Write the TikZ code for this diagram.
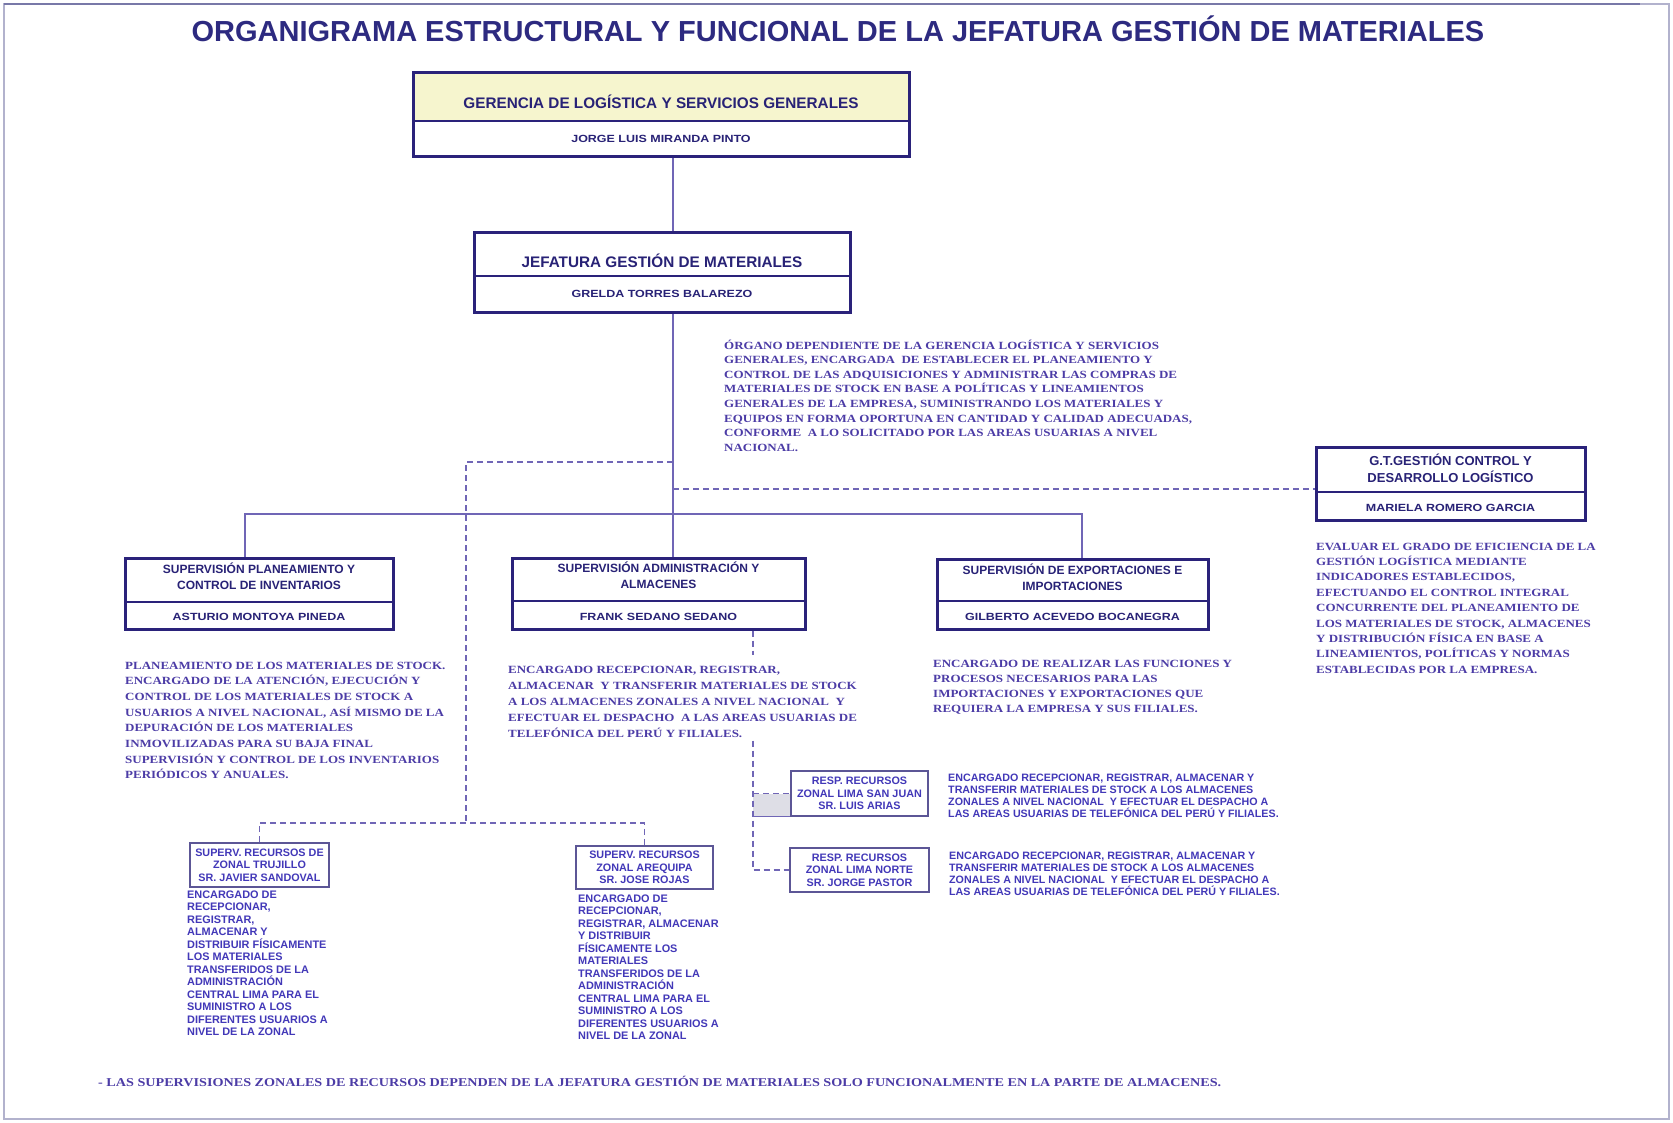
\documentclass[tikz,border=0pt]{standalone}
\usepackage{fontspec}
\setmainfont{Liberation Serif}
\setsansfont{Liberation Sans}
\newfontfamily\headfont{Liberation Sans}
\newfontfamily\namefont[FakeStretch=1.2]{Liberation Sans}
\newfontfamily\blurbfont[FakeStretch=1.18]{Liberation Serif}
\newfontfamily\zonefont{Liberation Sans}

\definecolor{titlecol}{RGB}{45,42,128}
\definecolor{boxcol}{RGB}{42,34,122}
\definecolor{headcol}{RGB}{40,34,118}
\definecolor{blurbcol}{RGB}{76,60,166}
\definecolor{zonecol}{RGB}{66,56,184}
\definecolor{zoneframe}{RGB}{92,86,150}
\definecolor{linkcol}{RGB}{112,102,182}
\definecolor{paleyellow}{RGB}{246,245,206}
\definecolor{framecol}{RGB}{178,178,205}
\definecolor{topframe}{RGB}{120,120,168}
\definecolor{graystrip}{RGB}{222,222,230}

% description text: size, line spacing, lines
\newcommand\blurb[3]{\parbox[t]{620pt}{\raggedright\blurbfont\bfseries\fontsize{#1}{#2}\selectfont #3}}
\newcommand\zoneblurb[3]{\parbox[t]{400pt}{\raggedright\zonefont\bfseries\fontsize{#1}{#2}\selectfont #3}}

\tikzset{
  bigbox/.style={draw=boxcol, line width=3pt, rectangle, inner sep=0pt},
  divider/.style={draw=boxcol, line width=2pt},
  headtext/.style={text=headcol, inner sep=0pt, align=center,
    font=\headfont\bfseries\fontsize{12}{16.5}\selectfont},
  nametext/.style={text=headcol, inner sep=0pt,
    font=\namefont\bfseries\fontsize{10.4}{12}\selectfont},
  zonebox/.style={draw=zoneframe, line width=1.8pt, fill=white, rectangle,
    inner sep=0pt, align=center, text=zonecol,
    font=\zonefont\bfseries\fontsize{10.8}{12.3}\selectfont},
  blurbnode/.style={anchor=base west, inner sep=0pt, text=blurbcol},
  zoneblurbnode/.style={anchor=base west, inner sep=0pt, text=zonecol},
  link/.style={draw=linkcol, line width=1.3pt},
  dlink/.style={draw=linkcol, line width=1.3pt, dash pattern=on 6pt off 4pt},
}

\begin{document}
\begin{tikzpicture}[x=1pt, y=-1pt]
\useasboundingbox (0,0) rectangle (1673,1123);
\fill[white] (0,0) rectangle (1673,1123);

% page frame
\draw[framecol, line width=1.5pt] (4,4) rectangle (1669,1119);
\draw[topframe, line width=2.5pt] (4,4) -- (1640,4);

% heading
\node[text=titlecol, inner sep=0pt, font=\headfont\bfseries\fontsize{29}{32}\selectfont] (title) at (838,29)
  {ORGANIGRAMA ESTRUCTURAL Y FUNCIONAL DE LA JEFATURA GESTIÓN DE MATERIALES};

% trunk reference points
\coordinate (t1) at (673,462);
\coordinate (t2) at (673,489);
\coordinate (bus) at (673,514);
\coordinate (bl) at (245,514);
\coordinate (br) at (1082,514);
\coordinate (dl) at (466,462);
\coordinate (dz) at (466,823);
\coordinate (lv) at (753,600);

% ---------- management boxes ----------
\fill[paleyellow] (413,73) rectangle (909,121);
\node[bigbox, minimum width=496pt, minimum height=84pt] (ger) at (661,115) {};
\draw[divider] (413,121) -- (909,121);
\node[headtext, font=\headfont\bfseries\fontsize{15.3}{18}\selectfont] (gert) at (661,102)
  {GERENCIA DE LOGÍSTICA Y SERVICIOS GENERALES};
\node[nametext] (gern) at (661,139) {JORGE LUIS MIRANDA PINTO};

\node[bigbox, fill=white, minimum width=376pt, minimum height=80pt] (jef) at (662,273) {};
\draw[divider] (474,276) -- (850,276);
\node[headtext, font=\headfont\bfseries\fontsize{15.3}{18}\selectfont] (jeft) at (662,261)
  {JEFATURA GESTIÓN DE MATERIALES};
\node[nametext] (jefn) at (662,294) {GRELDA TORRES BALAREZO};

% ---------- connectors ----------
\draw[link] (ger.south -| t1) -- (jef.north -| t1);
\draw[link] (jef.south -| t1) -- (bus);

\node[bigbox, fill=white, minimum width=268pt, minimum height=71pt] (sp) at (259,593.5) {};
\node[bigbox, fill=white, minimum width=293pt, minimum height=71pt] (sa) at (658.5,593.5) {};
\node[bigbox, fill=white, minimum width=271pt, minimum height=70pt] (se) at (1072.5,594) {};
\node[bigbox, fill=white, minimum width=269pt, minimum height=73pt] (gt) at (1450.5,483.5) {};

\draw[link] (bus) -- (sa.north -| bus);
\draw[link] (sp.north -| bl) -- (bl) -- (br) -- (se.north -| br);
\draw[dlink] (t2) -- (gt.west |- t2);
\draw[dlink] (t1) -- (dl) -- (dz);

% ---------- supervision boxes ----------
\draw[divider] (125,602) -- (393,602);
\node[headtext] (spt) at (259,576) {SUPERVISIÓN PLANEAMIENTO Y\\CONTROL DE INVENTARIOS};
\node[nametext] (spn) at (259,617) {ASTURIO MONTOYA PINEDA};

\draw[divider] (512,601) -- (805,601);
\node[headtext] (sat) at (658.5,575) {SUPERVISIÓN ADMINISTRACIÓN Y\\ALMACENES};
\node[nametext] (san) at (658.5,617) {FRANK SEDANO SEDANO};

\draw[divider] (937,601) -- (1208,601);
\node[headtext] (set) at (1072.5,577) {SUPERVISIÓN DE EXPORTACIONES E\\IMPORTACIONES};
\node[nametext] (sen) at (1072.5,617) {GILBERTO ACEVEDO BOCANEGRA};

\draw[divider] (1316,492) -- (1585,492);
\node[headtext, font=\headfont\bfseries\fontsize{13}{17}\selectfont] (gtt) at (1450.5,468)
  {G.T.GESTIÓN CONTROL Y\\DESARROLLO LOGÍSTICO};
\node[nametext] (gtn) at (1450.5,508) {MARIELA ROMERO GARCIA};

% ---------- zonal units ----------
\fill[graystrip] (753,794) rectangle (791,816);
\draw[link, line width=1pt] (753,816) -- (791,816);

\node[zonebox, minimum width=137pt, minimum height=45pt] (sj) at (859.5,793.5)
  {RESP. RECURSOS\\ZONAL LIMA SAN JUAN\\SR. LUIS ARIAS};
\node[zonebox, minimum width=139pt, minimum height=44pt] (ln) at (859.5,870)
  {RESP. RECURSOS\\ZONAL LIMA NORTE\\SR. JORGE PASTOR};
\node[zonebox, minimum width=139pt, minimum height=44pt] (truj) at (259.5,865)
  {SUPERV. RECURSOS DE\\ZONAL TRUJILLO\\SR. JAVIER SANDOVAL};
\node[zonebox, minimum width=137pt, minimum height=43pt] (areq) at (644.5,867.5)
  {SUPERV. RECURSOS\\ZONAL AREQUIPA\\SR. JOSE ROJAS};

\draw[dlink] (sa.south -| lv) -- (lv |- ln.west) -- (ln.west);
\draw[dlink] (lv |- sj.west) -- (sj.west);
\draw[dlink] (truj.north) -- (truj.north |- dz) -- (areq.north |- dz) -- (areq.north);

% ---------- descriptions ----------
\node[blurbnode] (dorg) at (724,349) {\blurb{11}{14.6}{%
ÓRGANO DEPENDIENTE DE LA GERENCIA LOGÍSTICA Y SERVICIOS\\
GENERALES, ENCARGADA\ \ DE ESTABLECER EL PLANEAMIENTO Y\\
CONTROL DE LAS ADQUISICIONES Y ADMINISTRAR LAS COMPRAS DE\\
MATERIALES DE STOCK EN BASE A POLÍTICAS Y LINEAMIENTOS\\
GENERALES DE LA EMPRESA, SUMINISTRANDO LOS MATERIALES Y\\
EQUIPOS EN FORMA OPORTUNA EN CANTIDAD Y CALIDAD ADECUADAS,\\
CONFORME\ \ A LO SOLICITADO POR LAS AREAS USUARIAS A NIVEL\\
NACIONAL.}};

\node[blurbnode] (dsp) at (125,669) {\blurb{11}{15.7}{%
PLANEAMIENTO DE LOS MATERIALES DE STOCK.\\
ENCARGADO DE LA ATENCIÓN, EJECUCIÓN Y\\
CONTROL DE LOS MATERIALES DE STOCK A\\
USUARIOS A NIVEL NACIONAL, ASÍ MISMO DE LA\\
DEPURACIÓN DE LOS MATERIALES\\
INMOVILIZADAS PARA SU BAJA FINAL\\
SUPERVISIÓN Y CONTROL DE LOS INVENTARIOS\\
PERIÓDICOS Y ANUALES.}};

% white backing so the dashed line passes behind this block
\fill[white] (505,655) rectangle (858,740);
\node[blurbnode] (dsa) at (508,673) {\blurb{11}{16}{%
ENCARGADO RECEPCIONAR, REGISTRAR,\\
ALMACENAR\ \ Y TRANSFERIR MATERIALES DE STOCK\\
A LOS ALMACENES ZONALES A NIVEL NACIONAL\ \ Y\\
EFECTUAR EL DESPACHO\ \ A LAS AREAS USUARIAS DE\\
TELEFÓNICA DEL PERÚ Y FILIALES.}};

\node[blurbnode] (dse) at (933,667) {\blurb{11}{15}{%
ENCARGADO DE REALIZAR LAS FUNCIONES Y\\
PROCESOS NECESARIOS PARA LAS\\
IMPORTACIONES Y EXPORTACIONES QUE\\
REQUIERA LA EMPRESA Y SUS FILIALES.}};

\node[blurbnode] (dgt) at (1316,550) {\blurb{11}{15.4}{%
EVALUAR EL GRADO DE EFICIENCIA DE LA\\
GESTIÓN LOGÍSTICA MEDIANTE\\
INDICADORES ESTABLECIDOS,\\
EFECTUANDO EL CONTROL INTEGRAL\\
CONCURRENTE DEL PLANEAMIENTO DE\\
LOS MATERIALES DE STOCK, ALMACENES\\
Y DISTRIBUCIÓN FÍSICA EN BASE A\\
LINEAMIENTOS, POLÍTICAS Y NORMAS\\
ESTABLECIDAS POR LA EMPRESA.}};

\node[zoneblurbnode] (dsj) at (948,781) {\zoneblurb{10.7}{12.2}{%
ENCARGADO RECEPCIONAR, REGISTRAR, ALMACENAR Y\\
TRANSFERIR MATERIALES DE STOCK A LOS ALMACENES\\
ZONALES A NIVEL NACIONAL\ \ Y EFECTUAR EL DESPACHO A\\
LAS AREAS USUARIAS DE TELEFÓNICA DEL PERÚ Y FILIALES.}};

\node[zoneblurbnode] (dln) at (949,859) {\zoneblurb{10.7}{12.3}{%
ENCARGADO RECEPCIONAR, REGISTRAR, ALMACENAR Y\\
TRANSFERIR MATERIALES DE STOCK A LOS ALMACENES\\
ZONALES A NIVEL NACIONAL\ \ Y EFECTUAR EL DESPACHO A\\
LAS AREAS USUARIAS DE TELEFÓNICA DEL PERÚ Y FILIALES.}};

\node[zoneblurbnode] (dtruj) at (187,898) {\zoneblurb{10.9}{12.5}{%
ENCARGADO DE\\
RECEPCIONAR,\\
REGISTRAR,\\
ALMACENAR Y\\
DISTRIBUIR FÍSICAMENTE\\
LOS MATERIALES\\
TRANSFERIDOS DE LA\\
ADMINISTRACIÓN\\
CENTRAL LIMA PARA EL\\
SUMINISTRO A LOS\\
DIFERENTES USUARIOS A\\
NIVEL DE LA ZONAL}};

\node[zoneblurbnode] (dareq) at (578,902) {\zoneblurb{10.9}{12.5}{%
ENCARGADO DE\\
RECEPCIONAR,\\
REGISTRAR, ALMACENAR\\
Y DISTRIBUIR\\
FÍSICAMENTE LOS\\
MATERIALES\\
TRANSFERIDOS DE LA\\
ADMINISTRACIÓN\\
CENTRAL LIMA PARA EL\\
SUMINISTRO A LOS\\
DIFERENTES USUARIOS A\\
NIVEL DE LA ZONAL}};

% ---------- footnote ----------
\node[blurbnode] (note) at (98,1086) {\parbox[t]{1500pt}{\blurbfont\bfseries\fontsize{12}{14}\selectfont
- LAS SUPERVISIONES ZONALES DE RECURSOS DEPENDEN DE LA JEFATURA GESTIÓN DE MATERIALES SOLO FUNCIONALMENTE EN LA PARTE DE ALMACENES.}};
\end{tikzpicture}
\end{document}
